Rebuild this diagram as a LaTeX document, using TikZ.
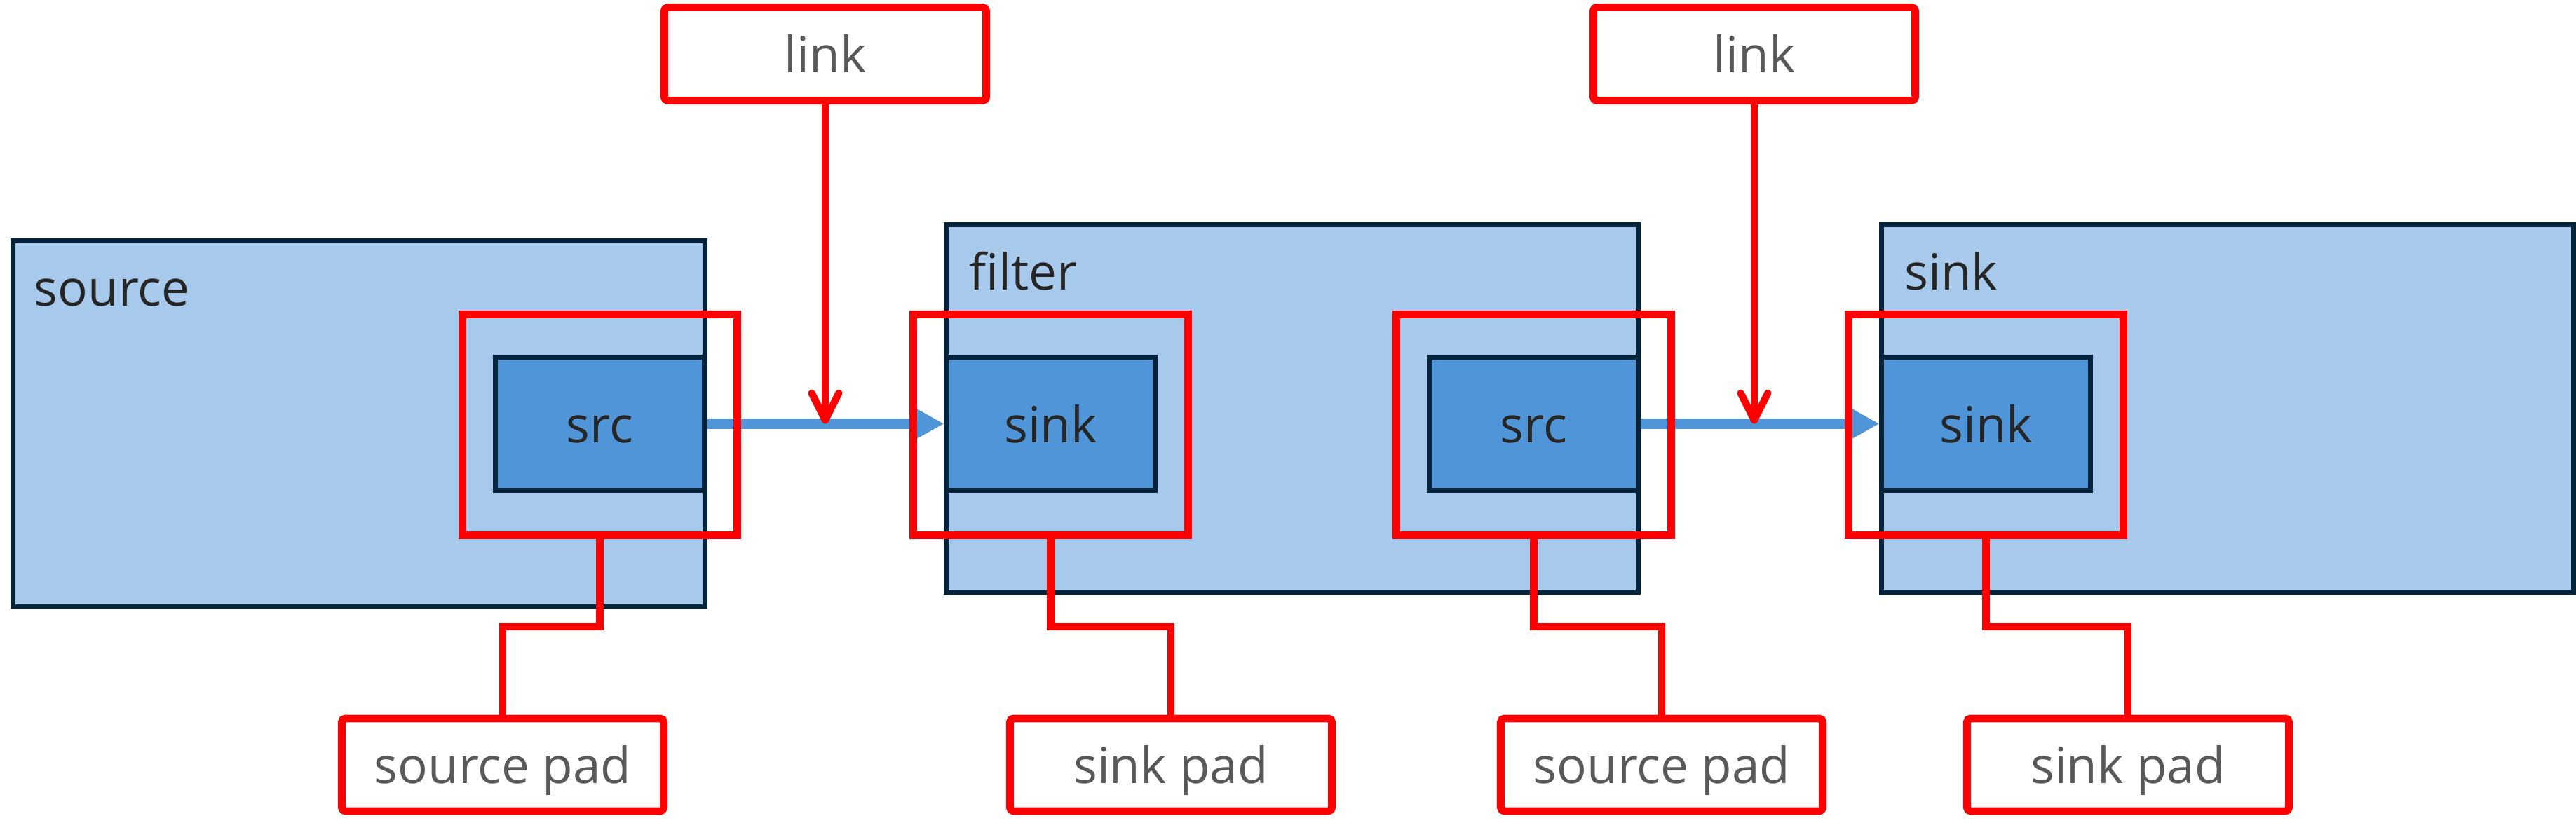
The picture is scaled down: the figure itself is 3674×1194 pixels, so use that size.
\documentclass[tikz,border=0pt]{standalone}
\usepackage{fontspec}
\setmainfont{Open Sans}
\usetikzlibrary{arrows.meta,calc}
\definecolor{boxfill}{HTML}{A7CAEC}
\definecolor{padfill}{HTML}{4F95D8}
\definecolor{boxline}{HTML}{05233A}
\definecolor{annored}{HTML}{FF0000}
\definecolor{titletext}{HTML}{262626}
\definecolor{labeltext}{HTML}{595959}
\begin{document}
\begin{tikzpicture}[x=0.01cm,y=-0.01cm,
  font=\fontsize{20.2pt}{24pt}\selectfont,
  element/.style={draw=boxline, line width=2pt, fill=boxfill, minimum width=9.86cm, minimum height=5.24cm, inner sep=0pt},
  padbox/.style={draw=boxline, line width=2pt, fill=padfill, minimum width=2.97cm, minimum height=1.89cm, inner sep=0pt, text=titletext, text height=0.53cm, text depth=0pt},
  padmark/.style={draw=annored, line width=3.1pt, minimum width=3.92cm, minimum height=3.14cm, inner sep=0pt},
  note/.style={draw=annored, line width=3.1pt, rounded corners=1.5pt, fill=white, minimum width=4.59cm, minimum height=1.33cm, inner sep=0pt, text=labeltext, text height=0.53cm, text depth=0pt},
  title/.style={anchor=base west, text=titletext, inner sep=0pt},
  flow/.style={draw=padfill, line width=4pt, -{Triangle[length=11.7pt,width=12pt]}},
  pointer/.style={draw=annored, line width=2.9pt, -{Straight Barb[length=11pt,width=11pt,round]}},
  conn/.style={draw=annored, line width=2.9pt}
]
\useasboundingbox (0,0) rectangle (3674,1194);

% elements
\node[element, minimum height=5.22cm] (source) at (512,604.5) {};
\node[element] (filter) at (1843,583) {};
\node[element] (sink) at (3177,583) {};
\node[title] (tsource) at ([xshift=0.33cm,yshift=-0.965cm]source.north west) {source};
\node[title] (tfilter) at ([xshift=0.355cm,yshift=-0.965cm]filter.north west) {filter};
\node[title] (tsink) at ([xshift=0.355cm,yshift=-0.965cm]sink.north west) {sink};

% pads
\node[padbox] (srcA) at (855.5,604.5) {src};
\node[padbox] (sinkB) at (1498.5,604.5) {sink};
\node[padbox] (srcB) at (2187.5,604.5) {src};
\node[padbox] (sinkC) at (2832.5,604.5) {sink};

% data flow
\draw[flow] (srcA.east) -- (sinkB.west);
\draw[flow] (srcB.east) -- (sinkC.west);

% red pad markers
\node[padmark] (mA) at (855.5,606) {};
\node[padmark] (mB) at (1498.5,606) {};
\node[padmark] (mC) at (2187.5,606) {};
\node[padmark] (mD) at (2832.5,606) {};

% link notes
\node[note] (linkA) at (1177,77) {link};
\node[note] (linkB) at (2502,77) {link};
\draw[pointer] (linkA.south) -- (linkA.south |- srcA.center);
\draw[pointer] (linkB.south) -- (linkB.south |- srcB.center);

% pad notes
\node[note, minimum height=1.32cm] (labA) at (717,1091) {source pad};
\node[note, minimum height=1.32cm] (labB) at (1670,1091) {sink pad};
\node[note, minimum height=1.32cm] (labC) at (2370,1091) {source pad};
\node[note, minimum height=1.32cm] (labD) at (3035,1091) {sink pad};

\draw[conn] (mA.south) |- ($(mA.south)!0.5!(labA.north)$) -| (labA.north);
\draw[conn] (mB.south) |- ($(mB.south)!0.5!(labB.north)$) -| (labB.north);
\draw[conn] (mC.south) |- ($(mC.south)!0.5!(labC.north)$) -| (labC.north);
\draw[conn] (mD.south) |- ($(mD.south)!0.5!(labD.north)$) -| (labD.north);
\end{tikzpicture}
\end{document}
